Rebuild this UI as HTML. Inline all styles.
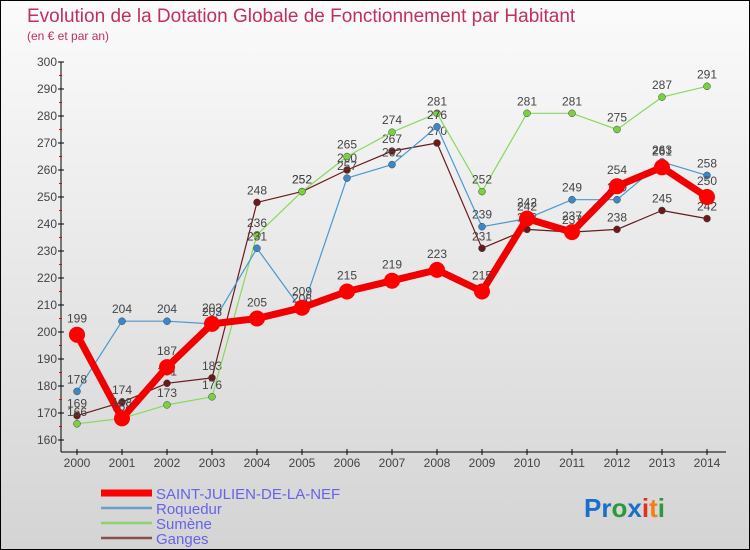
<!DOCTYPE html>
<html><head><meta charset="utf-8"><style>
body{margin:0;}
#wrap{position:relative;width:748px;height:548px;border:1px solid #000;background:linear-gradient(#fbfbfb,#d4d4d4);font-family:"Liberation Sans",sans-serif;overflow:hidden}
svg{position:absolute;left:0;top:0}
</style></head><body>
<div id="wrap">
<svg id="c" width="750" height="550">
<text x="26" y="21" font-size="19" fill="#c0305a">Evolution de la Dotation Globale de Fonctionnement par Habitant</text>
<text x="26" y="39" font-size="12" fill="#c0305a">(en € et par an)</text>
<g><text x="583" y="516" font-size="26" font-weight="bold"><tspan fill="#1a6fc8">Pr</tspan><tspan fill="#2a9a3a">o</tspan><tspan fill="#1a6fc8">x</tspan><tspan fill="#e03020">i</tspan><tspan fill="#f08010">t</tspan><tspan fill="#2a9a3a">i</tspan></text></g>
</svg>
</div>
<script>
const years=[2000,2001,2002,2003,2004,2005,2006,2007,2008,2009,2010,2011,2012,2013,2014];
const yTicks=[160,170,180,190,200,210,220,230,240,250,260,270,280,290,300];
const stJulien=[199,168,187,203,205,209,215,219,223,215,242,237,254,261,250];
const roquedur=[178,204,204,203,231,208,257,262,276,239,242,249,249,263,258];
const sumene=[166,168,173,176,236,252,265,274,281,252,281,281,275,287,291];
const ganges=[169,174,181,183,248,252,260,267,270,231,238,237,238,245,242];
const names=["SAINT-JULIEN-DE-LA-NEF","Roquedur","Sumène","Ganges"];
const svg=document.getElementById('c');const NS='http://www.w3.org/2000/svg';
const X=i=>76+i*45, Y=v=>439-(v-160)*2.7;
function mk(t,a,p){const e=document.createElementNS(NS,t);for(const k in a)e.setAttribute(k,a[k]);(p||svg).appendChild(e);return e;}
const ax=mk('g',{});


mk('line',{x1:60,y1:61,x2:60,y2:451,stroke:'#000'},ax);
mk('line',{x1:60,y1:451,x2:725,y2:451,stroke:'#000'},ax);
yTicks.forEach(v=>{mk('line',{x1:57,y1:Y(v),x2:63,y2:Y(v),stroke:'#000'},ax);
 if(v<300)mk('line',{x1:58,y1:Y(v+5),x2:61,y2:Y(v+5),stroke:'#e00'},ax);
 const t=mk('text',{x:56,y:Y(v)+4,'font-size':12,fill:'#444','text-anchor':'end'},ax);t.textContent=v;
 
 });
years.forEach((y,i)=>{mk('line',{x1:X(i),y1:448,x2:X(i),y2:454,stroke:'#000'},ax);
 const t=mk('text',{x:X(i),y:466,'font-size':12,fill:'#444','text-anchor':'middle'},ax);t.textContent=y;
 
 });
const series=[[ganges,'#6a1a1a',1.2,3.5,3],[sumene,'#88d860',1.2,3.5,2],[roquedur,'#4a98d0',1.2,3.5,1],[stJulien,'#f00000',7,8,0]];
series.forEach(([d,col,w,r,idx])=>{
 const g=mk('g',{});
 
 
 mk('polyline',{points:d.map((v,i)=>X(i)+','+Y(v)).join(' '),fill:'none',stroke:col,'stroke-width':w,'stroke-linejoin':'round'},g);
 const fill=idx==0?'#f00':(idx==1?'#3a88c8':idx==2?'#7ad040':'#6a1a1a');
 d.forEach((v,i)=>{const c=mk('circle',{cx:X(i),cy:Y(v),r:r,fill:fill,stroke:idx==0?'#f00':'#444','stroke-width':idx==0?0:0.5},g);
  
  
  const t=mk('text',{x:X(i),y:Y(v)-(idx==0?12:8),'font-size':12,fill:'#444','text-anchor':'middle'},g);t.textContent=v;
  
  });
});
const lg=mk('g',{});


[['#f00',7],['#6aa0c8',2.5],['#90d070',2.5],['#8a5050',2.5]].forEach(([c,w],i)=>{
 const y=492+i*15;
 mk('line',{x1:100,y1:y,x2:151,y2:y,stroke:c,'stroke-width':w},lg);
 const t=mk('text',{x:155,y:y+6,'font-size':15,fill:'#6464e8'},lg);t.textContent=names[i];
 
 
});
</script>
</body></html>
